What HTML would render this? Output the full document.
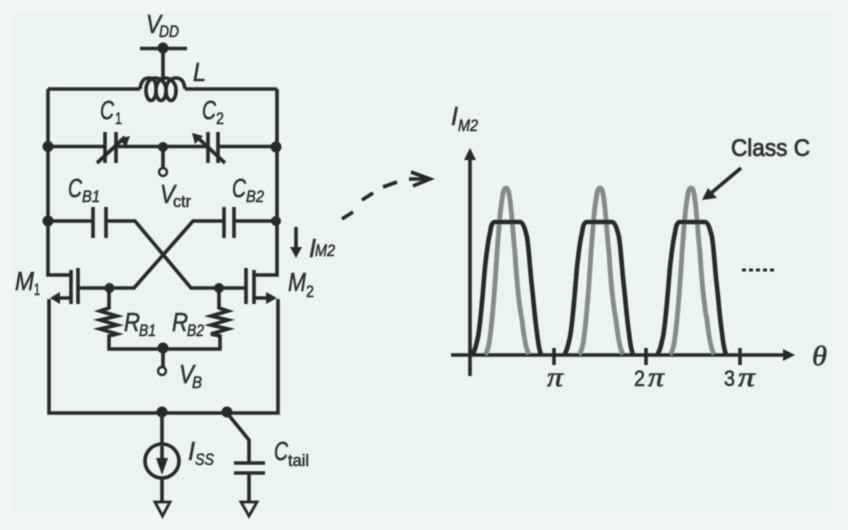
<!DOCTYPE html>
<html><head><meta charset="utf-8"><style>
html,body{margin:0;padding:0;width:848px;height:530px;overflow:hidden;background:#f0f6f2}
svg{display:block}
text{font-family:"Liberation Sans",sans-serif;fill:#2f3431;stroke:#2f3431;stroke-width:.55;font-style:italic}
.m{font-size:26px}.s{font-size:17px}.n{font-style:normal}
.p{font-family:"Liberation Serif",serif;font-size:27px}
.d{font-size:22px;font-style:normal}
</style></head><body>
<svg width="848" height="530" viewBox="0 0 848 530" xmlns="http://www.w3.org/2000/svg">
<defs><filter id="b" x="-5%" y="-5%" width="110%" height="110%"><feGaussianBlur stdDeviation="0.45"/></filter>
<path id="gc" d="M485 354C488 352 489 344 490 337C493 315 495 285 497 253C499 228 500 210 502 200C503 192 504 188 506 188C508 188 509 192 510 200C512 215 513 235 515 253C517 285 519 305 522 320C524 338 526 350 529 354"/>
<path id="bc" d="M472 354C475 352 476 345 478 337C481 320 483 290 485 267C487 250 488 240 490 233C491 226 492 222 495 222H520C523 222 525 229 527 237C529 250 530 270 532 287C534 305 535 320 537 333C538 342 539 350 541 354"/>
</defs>
<rect width="848" height="530" fill="#f0f6f2"/>
<rect x="14" y="12" width="818" height="500" fill="#ecf4ef"/>
<g filter="url(#b)">
<g fill="none" stroke="#272b29" stroke-width="3.600" stroke-linejoin="miter">
<path d="M140 48.500H187M163 48V82"/>
<path d="M48 89H140M185 89H277"/>
<path d="M140 89C141 81 144 78 149 78C155 78 156 83 156 90C156 104 146 104 146 90C146 83 150 78 155 78C161 78 166 83 166 90C166 104 156 104 156 90C156 83 160 78 165 78C171 78 176 83 176 90C176 104 166 104 166 90C166 83 170 78 176 78C182 78 184 82 185 89"/>
<path d="M48 89V275H71M277 89V275H254"/>
<path d="M48 146.500H105M116 146.500H208M218 146.500H277"/>
<path d="M105 132V163M116 132V163M208 132V163M218 132V163"/>
<path d="M97 163L125 137M225 163L197 137"/>
<path d="M163 147V167"/>
<path d="M48 221H93M106 221H135L191 288H246M277 221H234M224 221H193L134 288H78"/>
<path d="M93 207V238M106 207V238M224 207V238M234 207V238"/>
<path d="M71 270V304M78 268V304M254 270V304M246 268V304"/>
<path d="M71 298H56M254 298H270M49 299V413H278V299"/>
<path d="M109 288V308L100 311 117 316 100 320 117 325 100 329 117 334 109 336V349H220V336L211 334 228 329 211 325 228 320 211 316 228 311 219 308V288"/>
<path d="M163 349V367"/>
<circle cx="163" cy="172" r="4" stroke-width="2.400"/>
<circle cx="162" cy="371" r="4" stroke-width="2.400"/>
<path d="M162 413V444M162 478V501"/>
<circle cx="162" cy="461" r="17"/>
<path d="M162 446V466"/>
<path d="M227 413L249 440V463M249 474V501"/>
<path d="M234 463H265M234 473H265"/>
<path d="M155 502H170L162.500 516ZM241 502H257L249 516Z" stroke-width="2.800"/>
<path d="M296 227V250"/>
<path d="M342 219L353 212M362 200L373 193M383 187L397 182M409 179H428"/>
<path d="M411 172L430 179 413 186"/>
<path d="M741 168L710 194"/>
<path d="M470 155V376M451 355H788M554 348V365M646 348V365M740 348V365"/>
</g>
<g fill="#272b29">
<circle cx="163" cy="48" r="5.500"/><circle cx="48" cy="146.500" r="5.500"/><circle cx="163" cy="147" r="5"/><circle cx="276" cy="147" r="5.500"/><circle cx="48" cy="221" r="5.500"/><circle cx="276" cy="221" r="5"/><circle cx="109.500" cy="288" r="5"/><circle cx="219" cy="288" r="5"/><circle cx="163" cy="348" r="5.500"/><circle cx="162" cy="412" r="5.500"/><circle cx="227" cy="412" r="5.500"/>
<path d="M130 136L126 147 119 139Z"/><path d="M192 133L195 144 203 136Z"/>
<path d="M50 298L60 292V304Z"/><path d="M277 298L266 292V304Z"/>
<path d="M296 258L290 247H302Z"/><path d="M162 475L156 458H168Z"/>
<path d="M470 148L464 160H476Z"/><path d="M795 355L783 349V361Z"/>
<path d="M702 200L708 188 717 198Z"/>
<rect x="742" y="268.500" width="4" height="3"/><rect x="749" y="268.500" width="4" height="3"/><rect x="756" y="268.500" width="4" height="3"/><rect x="763" y="268.500" width="4" height="3"/><rect x="770" y="268.500" width="4" height="3"/>
</g>
<g fill="none" stroke="#858b88" stroke-width="4.800">
<use href="#gc"/><use href="#gc" x="94"/><use href="#gc" x="185"/>
</g>
<g fill="none" stroke="#272b29" stroke-width="4.600">
<use href="#bc"/><use href="#bc" x="92"/><use href="#bc" x="185"/>
</g>
<text class="m" x="146" y="33" textLength="15" lengthAdjust="spacingAndGlyphs">V</text><text class="s" x="159" y="37" textLength="20" lengthAdjust="spacingAndGlyphs">DD</text>
<text class="m" x="193" y="81" textLength="13" lengthAdjust="spacingAndGlyphs">L</text>
<text class="m" x="100" y="119" textLength="14" lengthAdjust="spacingAndGlyphs">C</text><text class="s n" x="115" y="124" textLength="7" lengthAdjust="spacingAndGlyphs">1</text>
<text class="m" x="202" y="119" textLength="14" lengthAdjust="spacingAndGlyphs">C</text><text class="s n" x="216" y="124" textLength="8" lengthAdjust="spacingAndGlyphs">2</text>
<text class="m" x="68" y="197" textLength="14" lengthAdjust="spacingAndGlyphs">C</text><text class="s" x="82" y="202" textLength="18" lengthAdjust="spacingAndGlyphs">B1</text>
<text class="m" x="232" y="197" textLength="14" lengthAdjust="spacingAndGlyphs">C</text><text class="s" x="246" y="202" textLength="18" lengthAdjust="spacingAndGlyphs">B2</text>
<text class="m" x="160" y="203" textLength="15" lengthAdjust="spacingAndGlyphs">V</text><text class="s n" x="173" y="207" textLength="18" lengthAdjust="spacingAndGlyphs">ctr</text>
<text class="m" x="309" y="257" textLength="7" lengthAdjust="spacingAndGlyphs">I</text><text class="s" x="315" y="256" textLength="20" lengthAdjust="spacingAndGlyphs">M2</text>
<text class="m" x="15" y="290" textLength="19" lengthAdjust="spacingAndGlyphs">M</text><text class="s n" x="34" y="295" textLength="6" lengthAdjust="spacingAndGlyphs">1</text>
<text class="m" x="288" y="291" textLength="18" lengthAdjust="spacingAndGlyphs">M</text><text class="s n" x="306" y="297" textLength="8" lengthAdjust="spacingAndGlyphs">2</text>
<text class="m" x="124" y="331" textLength="16" lengthAdjust="spacingAndGlyphs">R</text><text class="s" x="139" y="336" textLength="17" lengthAdjust="spacingAndGlyphs">B1</text>
<text class="m" x="172" y="331" textLength="16" lengthAdjust="spacingAndGlyphs">R</text><text class="s" x="187" y="336" textLength="17" lengthAdjust="spacingAndGlyphs">B2</text>
<text class="m" x="179" y="383" textLength="15" lengthAdjust="spacingAndGlyphs">V</text><text class="s" x="192" y="388" textLength="10" lengthAdjust="spacingAndGlyphs">B</text>
<text class="m" x="188" y="460" textLength="7" lengthAdjust="spacingAndGlyphs">I</text><text class="s" x="195" y="465" textLength="19" lengthAdjust="spacingAndGlyphs">SS</text>
<text class="m" x="274" y="460" textLength="14" lengthAdjust="spacingAndGlyphs">C</text><text class="s n" x="288" y="466" textLength="21" lengthAdjust="spacingAndGlyphs">tail</text>
<text class="m" x="451" y="125" textLength="7" lengthAdjust="spacingAndGlyphs">I</text><text class="s" x="458" y="131" textLength="20" lengthAdjust="spacingAndGlyphs">M2</text>
<text class="n" x="731" y="156" font-size="24" textLength="79" lengthAdjust="spacingAndGlyphs" style="stroke-width:.8">Class C</text>
<text class="p" x="812" y="365" textLength="15" lengthAdjust="spacingAndGlyphs">θ</text>
<text class="p" x="547" y="386" textLength="16" lengthAdjust="spacingAndGlyphs">π</text>
<text class="d" x="634" y="386" textLength="11" lengthAdjust="spacingAndGlyphs">2</text><text class="p" x="648" y="386" textLength="16" lengthAdjust="spacingAndGlyphs">π</text>
<text class="d" x="724" y="386" textLength="11" lengthAdjust="spacingAndGlyphs">3</text><text class="p" x="738" y="386" textLength="17" lengthAdjust="spacingAndGlyphs">π</text>
</g>
</svg>
</body></html>
